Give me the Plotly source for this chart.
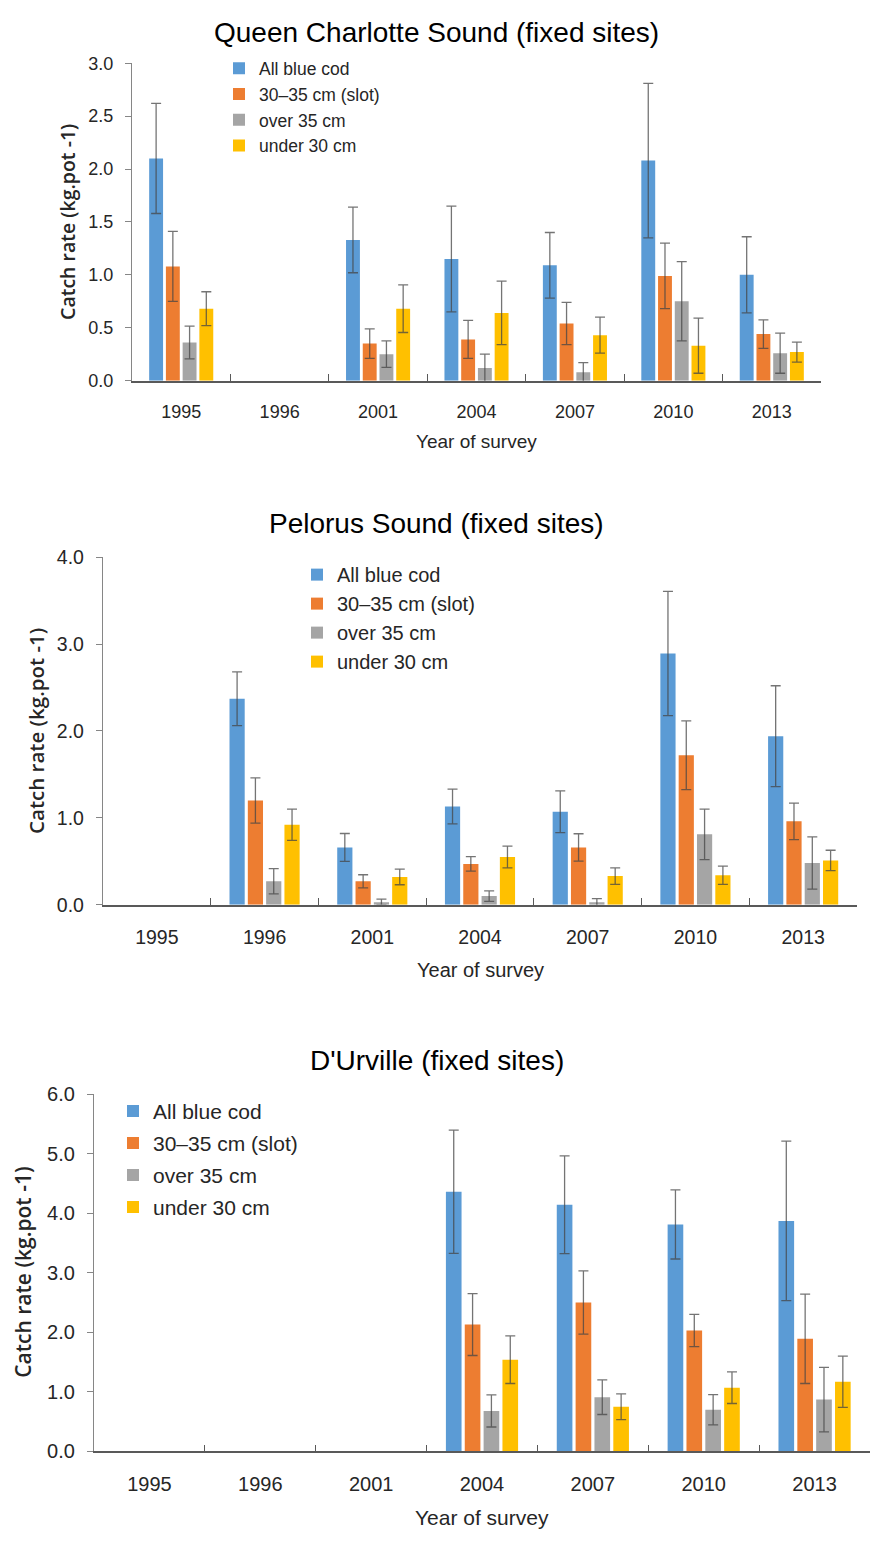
import plotly.graph_objects as go

# Survey years (categorical x axis)
years = ["1995", "1996", "2001", "2004", "2007", "2010", "2013"]

series_names = ["All blue cod", "30\u201335 cm (slot)", "over 35 cm", "under 30 cm"]
series_colors = ["#5B9BD5", "#ED7D31", "#A5A5A5", "#FFC000"]

# Queen Charlotte Sound (fixed sites): mean catch rate and error
qcs_all = [2.10, None, 1.33, 1.15, 1.09, 2.08, 1.00]
qcs_all_err = [0.52, None, 0.31, 0.50, 0.31, 0.73, 0.36]
qcs_slot = [1.08, None, 0.35, 0.39, 0.54, 0.99, 0.44]
qcs_slot_err = [0.33, None, 0.14, 0.18, 0.20, 0.31, 0.135]
qcs_over = [0.36, None, 0.25, 0.12, 0.08, 0.75, 0.26]
qcs_over_err = [0.155, None, 0.125, 0.13, 0.09, 0.375, 0.19]
qcs_under = [0.68, None, 0.68, 0.64, 0.43, 0.33, 0.27]
qcs_under_err = [0.16, None, 0.225, 0.30, 0.17, 0.26, 0.095]

# Pelorus Sound (fixed sites)
pel_all = [None, 2.37, 0.66, 1.13, 1.07, 2.89, 1.94]
pel_all_err = [None, 0.31, 0.16, 0.20, 0.24, 0.715, 0.58]
pel_slot = [None, 1.20, 0.27, 0.47, 0.66, 1.72, 0.96]
pel_slot_err = [None, 0.26, 0.075, 0.083, 0.157, 0.395, 0.21]
pel_over = [None, 0.27, 0.03, 0.10, 0.03, 0.81, 0.48]
pel_over_err = [None, 0.145, 0.035, 0.06, 0.04, 0.29, 0.30]
pel_under = [None, 0.92, 0.32, 0.55, 0.33, 0.34, 0.51]
pel_under_err = [None, 0.18, 0.09, 0.125, 0.095, 0.105, 0.117]

# D'Urville (fixed sites)
dur_all = [None, None, None, 4.36, 4.14, 3.81, 3.87]
dur_all_err = [None, None, None, 1.035, 0.82, 0.58, 1.34]
dur_slot = [None, None, None, 2.13, 2.50, 2.03, 1.89]
dur_slot_err = [None, None, None, 0.52, 0.53, 0.27, 0.75]
dur_over = [None, None, None, 0.68, 0.91, 0.70, 0.87]
dur_over_err = [None, None, None, 0.27, 0.29, 0.255, 0.54]
dur_under = [None, None, None, 1.54, 0.75, 1.07, 1.17]
dur_under_err = [None, None, None, 0.40, 0.215, 0.265, 0.43]

W, H = 873, 1541
SANS = "Liberation Sans, Arial, sans-serif"
YTITLE = "Open Sans, DejaVu Sans, sans-serif"


def px_x(x):
    return x / W


def px_y(y):
    return 1 - y / H


panels = [
    dict(
        title="Queen Charlotte Sound (fixed sites)",
        values=[qcs_all, qcs_slot, qcs_over, qcs_under],
        errors=[qcs_all_err, qcs_slot_err, qcs_over_err, qcs_under_err],
        xdom=(132, 821), ydom=(53, 375), yrange=3.0, dtick=0.5,
        tick_font=18, title_y=22, xtitle_y=437, xtitle_font=19,
        ytitle_x=68, ytitle_font=19.5,
        leg_x=219, leg_y=40, leg_font=17.5, leg_gap=0,
    ),
    dict(
        title="Pelorus Sound (fixed sites)",
        values=[pel_all, pel_slot, pel_over, pel_under],
        errors=[pel_all_err, pel_slot_err, pel_over_err, pel_under_err],
        xdom=(103, 857), ydom=(554, 906.7), yrange=4.0, dtick=1.0,
        tick_font=19.5, title_y=520, xtitle_y=973, xtitle_font=20,
        ytitle_x=36, ytitle_font=20.5,
        leg_x=297, leg_y=552, leg_font=20, leg_gap=0,
    ),
    dict(
        title="D'Urville (fixed sites)",
        values=[dur_all, dur_slot, dur_over, dur_under],
        errors=[dur_all_err, dur_slot_err, dur_over_err, dur_under_err],
        xdom=(94, 870), ydom=(1098.7, 1461.3), yrange=6.0, dtick=1.0,
        tick_font=20, title_y=1065, xtitle_y=1528, xtitle_font=21,
        ytitle_x=23, ytitle_font=21,
        leg_x=113, leg_y=1095.5, leg_font=21, leg_gap=1.7,
    ),
]

fig = go.Figure()
layout = dict(
    width=W, height=H,
    margin=dict(l=0, r=0, t=0, b=0),
    paper_bgcolor="white", plot_bgcolor="white",
    barmode="group", bargap=0.32, bargroupgap=0.17,
    showlegend=True,
    annotations=[],
)

for i, p in enumerate(panels):
    n = "" if i == 0 else str(i + 1)
    legend_id = "legend" + n
    for k in range(4):
        fig.add_trace(go.Bar(
            x=years, y=p["values"][k],
            name=series_names[k],
            marker=dict(color=series_colors[k], line=dict(width=0)),
            error_y=dict(type="data", array=p["errors"][k], visible=True,
                         color="rgba(70,70,70,0.75)", thickness=1.3, width=5),
            xaxis="x" + n, yaxis="y" + n,
            legend=legend_id, legendgroup=f"g{i}{k}",
        ))

    layout["xaxis" + n] = dict(
        domain=[px_x(p["xdom"][0]), px_x(p["xdom"][1])],
        anchor="y" + n, type="category", categoryorder="array", categoryarray=years,
        showline=True, linecolor="#595959", linewidth=1.5,
        ticks="inside", tickson="boundaries", ticklen=7, tickcolor="#595959", tickwidth=1.3,
        tickfont=dict(family=SANS, size=p["tick_font"], color="#262626"),
        ticklabelstandoff=14,
        showgrid=False, zeroline=False, fixedrange=True,
    )
    layout["yaxis" + n] = dict(
        domain=[px_y(p["ydom"][1]), px_y(p["ydom"][0])],
        anchor="x" + n, range=[0, p["yrange"]], dtick=p["dtick"], tickformat=".1f",
        showline=True, linecolor="#868686", linewidth=1.3,
        ticks="outside", ticklen=6, tickcolor="#868686", tickwidth=1.3,
        tickfont=dict(family=SANS, size=p["tick_font"], color="#262626"),
        ticklabelstandoff=8,
        showgrid=False, zeroline=False, fixedrange=True,
    )
    layout[legend_id] = dict(
        x=px_x(p["leg_x"]), y=px_y(p["leg_y"]), xanchor="left", yanchor="top",
        bgcolor="rgba(0,0,0,0)", borderwidth=0,
        font=dict(family=SANS, size=p["leg_font"], color="#262626"),
        traceorder="grouped", tracegroupgap=p["leg_gap"],
        itemclick=False, itemdoubleclick=False,
    )

    xc = (p["xdom"][0] + p["xdom"][1]) / 2
    yc = (p["ydom"][0] + p["ydom"][1]) / 2
    layout["annotations"] += [
        dict(text=p["title"], x=0.5, y=px_y(p["title_y"]), xref="paper", yref="paper",
             xanchor="center", yanchor="middle", showarrow=False,
             font=dict(family=SANS, size=28, color="#000000")),
        dict(text="Year of survey", x=px_x(xc), y=px_y(p["xtitle_y"]), xref="paper", yref="paper",
             xanchor="center", yanchor="middle", showarrow=False,
             font=dict(family=SANS, size=p["xtitle_font"], color="#262626")),
        dict(text="Catch rate (kg.pot -1)", x=px_x(p["ytitle_x"]), y=px_y(yc), xref="paper", yref="paper",
             xanchor="center", yanchor="middle", showarrow=False, textangle=-90,
             font=dict(family=YTITLE, size=p["ytitle_font"], color="#262626", weight=600)),
    ]

fig.update_layout(**layout)
fig.write_html("out.html")
